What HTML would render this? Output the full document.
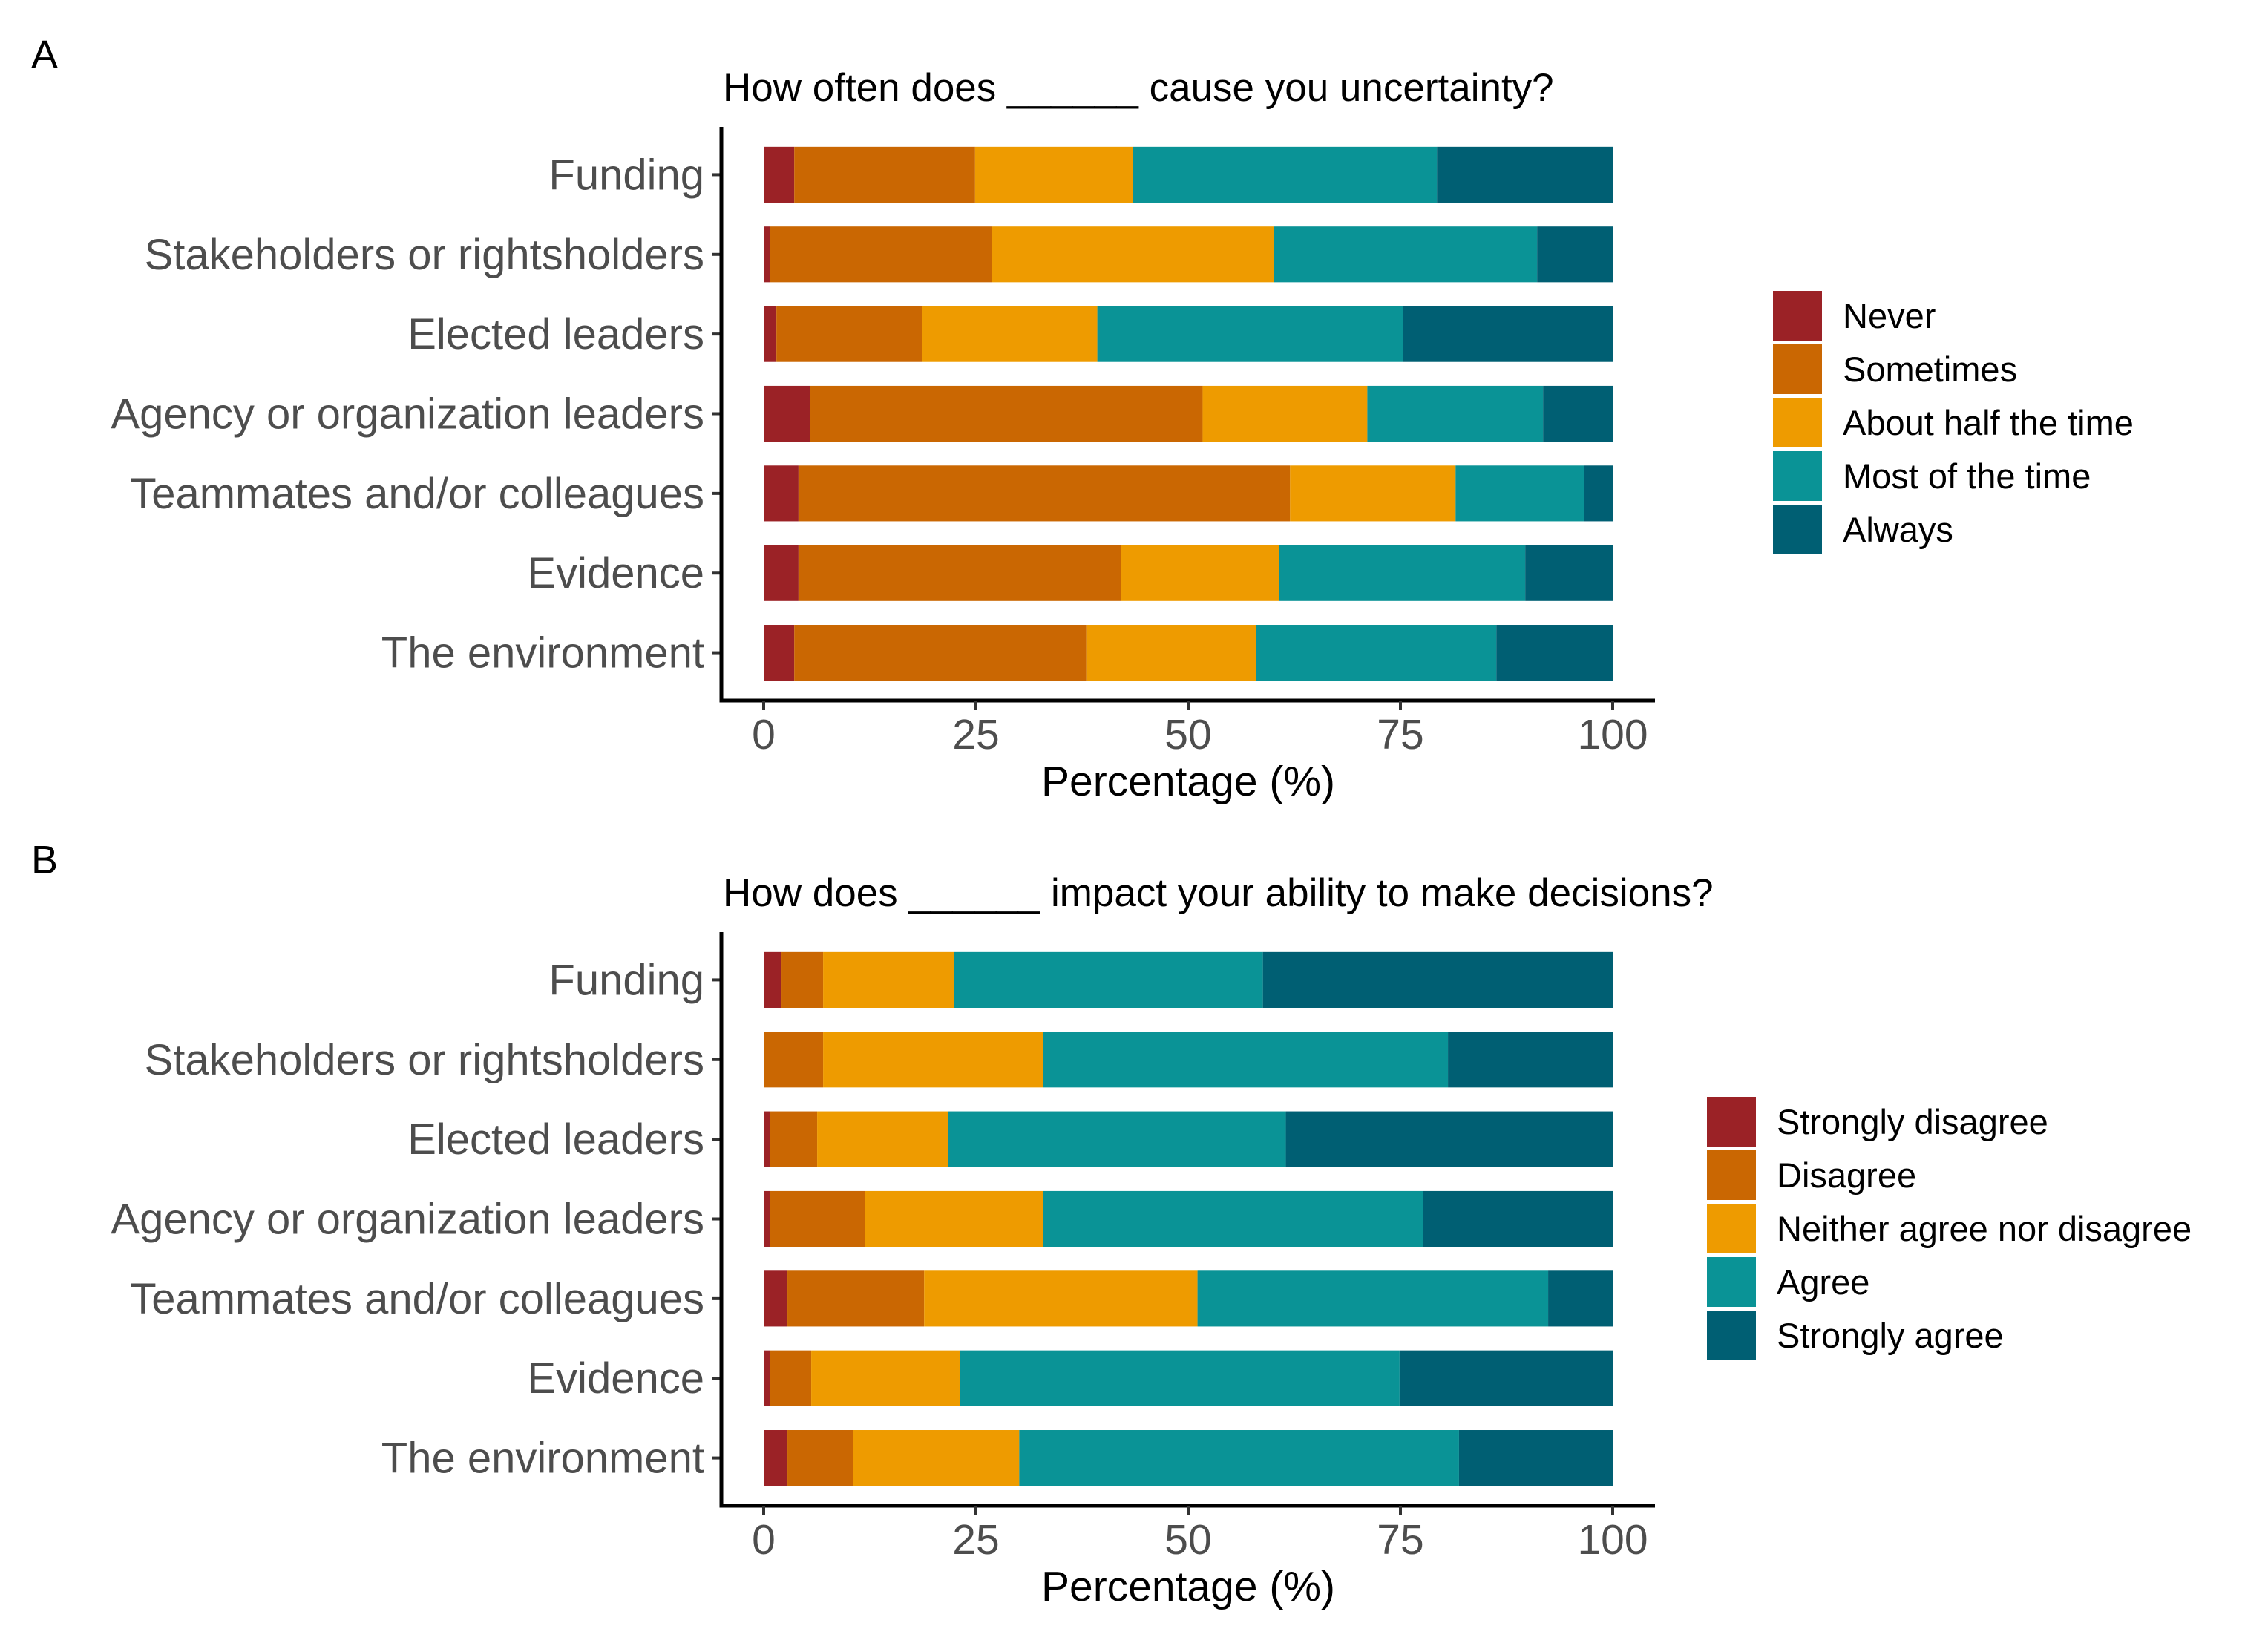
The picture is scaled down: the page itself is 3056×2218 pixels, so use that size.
<!DOCTYPE html>
<html><head><meta charset="utf-8"><style>
html,body{margin:0;padding:0;background:#fff}
svg{display:block}
text{font-family:"Liberation Sans",Arial,sans-serif}
</style></head><body>
<svg id="chart" width="3056" height="2218" viewBox="0 0 3056 2218" xmlns="http://www.w3.org/2000/svg">
<text x="42" y="92" font-size="54" fill="#000">A</text>
<text x="42" y="1177" font-size="54" fill="#000">B</text>
<text x="974" y="136" font-size="53" fill="#000">How often does ______ cause you uncertainty?</text>
<text x="974" y="1221" font-size="53" fill="#000">How does ______ impact your ability to make decisions?</text>
<g id="pa"></g>
<g id="pb"></g>
</svg>
<script>
const categories = ["Funding","Stakeholders or rightsholders","Elected leaders","Agency or organization leaders","Teammates and/or colleagues","Evidence","The environment"];
const ticks = [0,25,50,75,100];
const colors = ["#9B2226","#CA6702","#EE9B00","#0A9396","#005F73"];
const levelsA = ["Never","Sometimes","About half the time","Most of the time","Always"];
const levelsB = ["Strongly disagree","Disagree","Neither agree nor disagree","Agree","Strongly agree"];
const neverA =     [3.6, 0.7, 1.5, 5.5, 4.1, 4.1, 3.6];
const sometimesA = [21.3,26.2,17.2,46.2,57.9,38.0,34.4];
const halfA =      [18.6,33.2,20.6,19.4,19.5,18.6,20.0];
const mostA =      [35.8,31.0,36.0,20.7,15.1,29.0,28.3];
const alwaysA =    [20.7, 8.9,24.7, 8.2, 3.4,10.3,13.7];
const sdisB =      [2.1, 0.0, 0.7, 0.7, 2.8, 0.7, 2.8];
const disB =       [4.9, 7.0, 5.6,11.2,16.1, 4.9, 7.7];
const neutB =      [15.4,25.9,15.4,21.0,32.2,17.5,19.6];
const agreeB =     [36.4,47.7,39.8,44.8,41.3,51.8,51.8];
const sagreeB =    [41.2,19.4,38.5,22.3, 7.6,25.1,18.1];

const NS="http://www.w3.org/2000/svg";
function mk(tag,attrs,parent){const e=document.createElementNS(NS,tag);for(const k in attrs)e.setAttribute(k,attrs[k]);parent.appendChild(e);return e;}
const X0=1029, X100=2173;
const xs=v=>X0+(X100-X0)*v/100;

function panel(g, series, levels, top, bottom, legX, legY, key){
  const unit=(bottom-top)/7.2;
  const ys=i=>top+(0.6+i)*unit;
  categories.forEach((c,i)=>{
    let cum=0;
    series.forEach((s,j)=>{
      const r=mk('rect',{x:xs(cum),y:ys(i)-unit*0.35,width:Math.max(0,xs(cum+s[i])-xs(cum)),height:unit*0.7,fill:colors[j]},g);
      
      
      cum+=s[i];
    });
    const t=mk('text',{x:949,y:ys(i)+20,'text-anchor':'end','font-size':58,fill:'#4d4d4d'},g);
    t.textContent=c;
    
    
    const tk=mk('line',{x1:960,x2:972,y1:ys(i),y2:ys(i),stroke:'#333',"stroke-width":4},g);
    
    
  });
  const ax=mk('path',{d:`M972 ${top} V${bottom} H${X100+57}`,fill:'none',stroke:'#000','stroke-width':5},g);
  
  
  ticks.forEach(v=>{
    const l=mk('line',{x1:xs(v),x2:xs(v),y1:bottom,y2:bottom+13,stroke:'#333','stroke-width':4},g);
    
    
    const t=mk('text',{x:xs(v),y:bottom+65,'text-anchor':'middle','font-size':57,fill:'#4d4d4d'},g);
    t.textContent=v;
    
    
  });
  const xt=mk('text',{x:(X0+X100)/2,y:bottom+128,'text-anchor':'middle','font-size':57,fill:'#000'},g);
  xt.textContent='Percentage (%)';
  
  
  levels.forEach((lv,j)=>{
    const r=mk('rect',{x:legX,y:legY+j*72,width:66,height:67,fill:colors[j]},g);
    
    
    const t=mk('text',{x:legX+94,y:legY+j*72+50,'font-size':47,fill:'#000'},g);
    t.textContent=lv;
    
    
  });
}
panel(document.getElementById('pa'),[neverA,sometimesA,halfA,mostA,alwaysA],levelsA,171,944,2389,392,'a');
panel(document.getElementById('pb'),[sdisB,disB,neutB,agreeB,sagreeB],levelsB,1256,2029,2300,1478,'b');
</script>
</body></html>
